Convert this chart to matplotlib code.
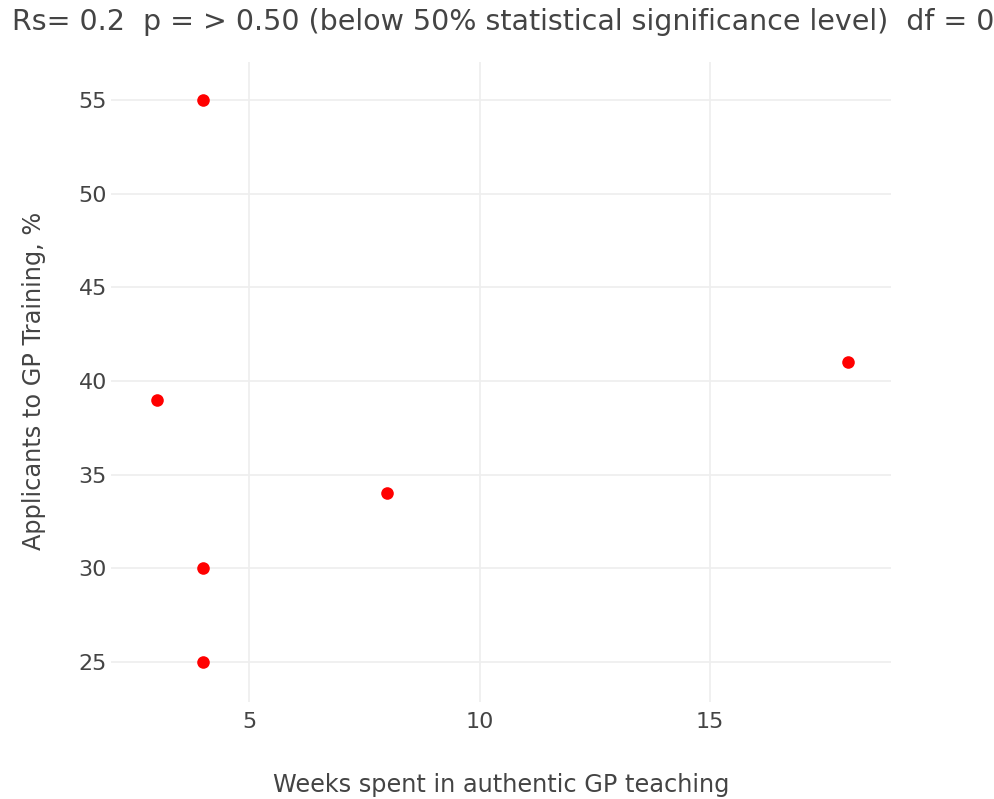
import matplotlib
matplotlib.use('Agg')
import matplotlib.pyplot as plt

weeks = [3, 4, 4, 4, 8, 18]
applicants = [39, 55, 30, 25, 34, 41]
xticks = [5, 10, 15]
yticks = [25, 30, 35, 40, 45, 50, 55]

title = 'Rs= 0.2  p = > 0.50 (below 50% statistical significance level)  df = 0'
xlabel = 'Weeks spent in authentic GP teaching'
ylabel = 'Applicants to GP Training, %'

plt.rcParams['font.family'] = ['DejaVu Sans']
fig = plt.figure(figsize=(9.95, 7.99), dpi=100)
ax = fig.add_axes([111/995, 97/799, 780/995, 640/799])

ax.scatter(weeks, applicants, s=82, c='#ff0000', zorder=3, linewidths=0)
ax.set_xlim(2.0, 18.93)
ax.set_ylim(22.86, 57.03)
ax.set_xticks(xticks)
ax.set_yticks(yticks)
ax.grid(True, color='#eeeeee', linewidth=1.2)
ax.set_axisbelow(True)
for s in ax.spines.values():
    s.set_visible(False)
ax.tick_params(length=0, labelsize=16, colors='#444444', pad=3)
ax.tick_params(axis='x', pad=7)

fig.text(12/995, 1 - 22/799, title, fontsize=20.5, color='#444444', va='center', ha='left')
fig.text(501/995, 1 - 785/799, xlabel, fontsize=17.3, color='#444444', va='center', ha='center')
fig.text(34/995, 1 - 381/799, ylabel, fontsize=17.3, color='#444444', va='center', ha='center', rotation=90)

fig.savefig('out.png', dpi=100)
